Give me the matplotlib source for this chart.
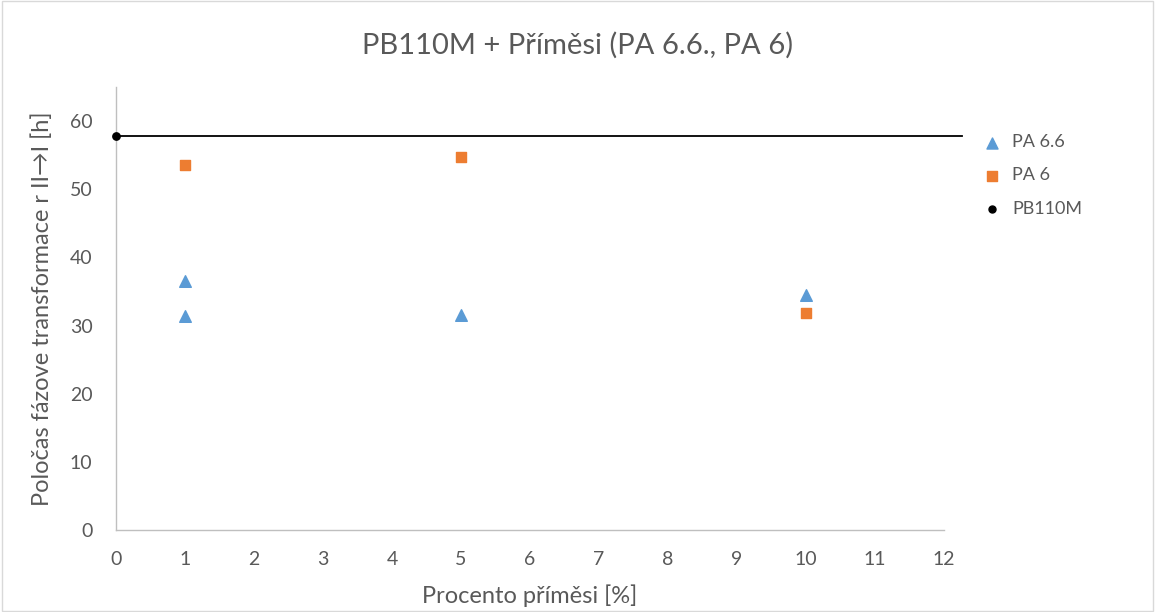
import matplotlib
matplotlib.use("Agg")
import matplotlib.pyplot as plt
from matplotlib.patches import Rectangle

pa66_x = [1, 1, 5, 10]
pa66_y = [36.5, 31.4, 31.5, 34.5]
pa6_x = [1, 5, 10]
pa6_y = [53.5, 54.7, 31.8]
pb_x = [0]
pb_y = [57.8]
x_ticks = list(range(0, 13))
y_ticks = list(range(0, 70, 10))

plt.rcParams['font.family'] = ['Lato', 'DejaVu Sans']
txt = '#595959'

fig = plt.figure(figsize=(11.55, 6.12), dpi=100)
ax = fig.add_axes([116/1155, 1-530/612, (944-116)/1155, (530-87)/612])

ax.plot([0, 12.26], [pb_y[0], pb_y[0]], color='black', lw=1.3, clip_on=False, zorder=2)
ax.scatter(pa66_x, pa66_y, marker='^', s=70, color='#5B9BD5', label='PA 6.6', zorder=3)
ax.scatter(pa6_x, pa6_y, marker='s', s=55, color='#ED7D31', label='PA 6', zorder=3)
ax.scatter(pb_x, pb_y, marker='o', s=28, color='black', label='PB110M', zorder=4, clip_on=False)

ax.set_xlim(0, 12)
ax.set_ylim(0, 65)
ax.set_xticks(x_ticks)
ax.set_yticks(y_ticks)
for s in ['top', 'right']:
    ax.spines[s].set_visible(False)
for s in ['left', 'bottom']:
    ax.spines[s].set_color('#bfbfbf')
    ax.spines[s].set_linewidth(1)
ax.tick_params(length=0, labelsize=14, colors=txt)
ax.tick_params(axis='y', pad=17)
ax.tick_params(axis='x', pad=15)

ax.set_xlabel('Procento příměsi [%]', fontsize=17, color=txt, labelpad=12)
ax.set_ylabel('Poločas fázove transformace r II→I [h]', fontsize=17, color=txt, labelpad=12)
fig.text(0.5, 1-45/612, 'PB110M + Příměsi (PA 6.6., PA 6)', ha='center', va='center', fontsize=21, color=txt)

leg = fig.legend(loc='upper left', bbox_to_anchor=(958/1155, 1-118/612), frameon=False,
                 fontsize=13, labelcolor=txt, handletextpad=0.1, labelspacing=0.95, markerscale=0.95)

fig.patches.append(Rectangle((0.0015, 0.0015), 0.997, 0.997, transform=fig.transFigure,
                             fill=False, edgecolor='#d9d9d9', lw=1))
fig.savefig('out.png', dpi=100)
